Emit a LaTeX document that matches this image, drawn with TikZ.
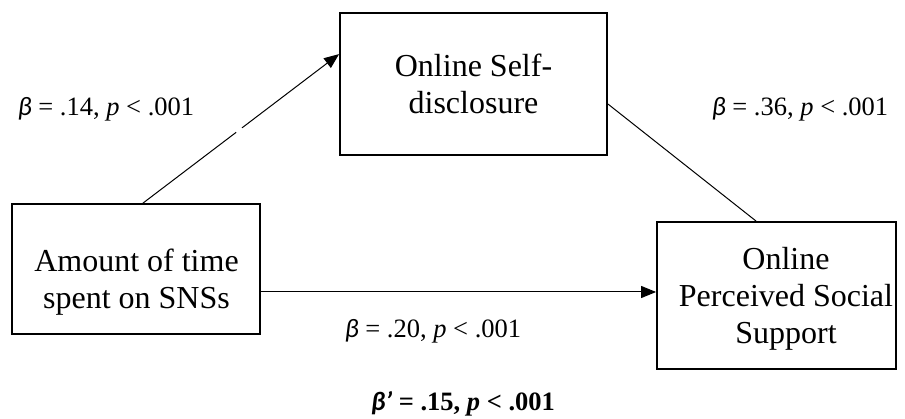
\documentclass[tikz,border=0pt]{standalone}
\usepackage{fontspec}
\setmainfont{Liberation Serif}
\newfontfamily\greekfont{Carlito}
\usetikzlibrary{arrows.meta,calc}
\newcommand{\bcoef}{{\greekfont\itshape β}}
\newcommand{\bcoefprime}{{\greekfont\itshape β’}}

\begin{document}
\begin{tikzpicture}[x=1pt,y=-1pt,
  box/.style={draw, line width=1.8pt, inner sep=0pt},
  boxtext/.style={align=center, inner sep=0pt, font=\fontsize{32}{36.8}\selectfont},
  coef/.style={inner sep=0pt, anchor=base, font=\fontsize{26.5}{30}\selectfont},
  link/.style={line width=1pt},
  tip/.style={-{Triangle[length=15pt,width=12pt]}}
]
\useasboundingbox (0,0) rectangle (905,419);

% variables
\node[box, minimum width=248pt, minimum height=130pt] (sns) at (136,269) {};
\node[boxtext] (sns-text) at (136.5,282) {Amount of time\\spent on SNSs};
\node[box, minimum width=267pt, minimum height=142pt] (osd) at (473.5,84) {};
\node[boxtext] (osd-text) at (osd.center) {Online Self-\\disclosure};
\node[box, minimum width=239pt, minimum height=147pt] (ops) at (776.5,295.5) {};
\node[boxtext] (ops-text) at (786,299) {Online\\Perceived Social\\Support};

% path a: time -> self-disclosure (broken stroke)
\coordinate (a1) at ($(sns.north west)!0.528!(sns.north east)$);
\coordinate (a2) at ($(osd.north west)+(0,42)$);
\draw[link] (a1) -- ($(a1)!0.475!(a2)$);
\draw[link,tip] ($(a1)!0.505!(a2)$) -- (a2);

% path b: self-disclosure -> support
\coordinate (b1) at ($(osd.east)+(0,20)$);
\coordinate (b2) at ($(ops.north west)+(100,0)$);
\draw[link] (b1) -- (b2);

% direct path c
\coordinate (c1) at ($(sns.east)+(0,23)$);
\draw[link,tip] (c1) -- (c1 -| ops.west);

% coefficients
\node[coef] (coef-a) at (106,116) {\bcoef{} = .14, \textit{p} < .001};
\node[coef] (coef-b) at (800,116) {\bcoef{} = .36, \textit{p} < .001};
\node[coef] (coef-c) at (433,338) {\bcoef{} = .20, \textit{p} < .001};
\node[coef, font=\fontsize{26.5}{30}\selectfont\bfseries] (coef-total) at (463,410)
  {\bcoefprime{} = .15, \textit{p} < .001};
\end{tikzpicture}
\end{document}
